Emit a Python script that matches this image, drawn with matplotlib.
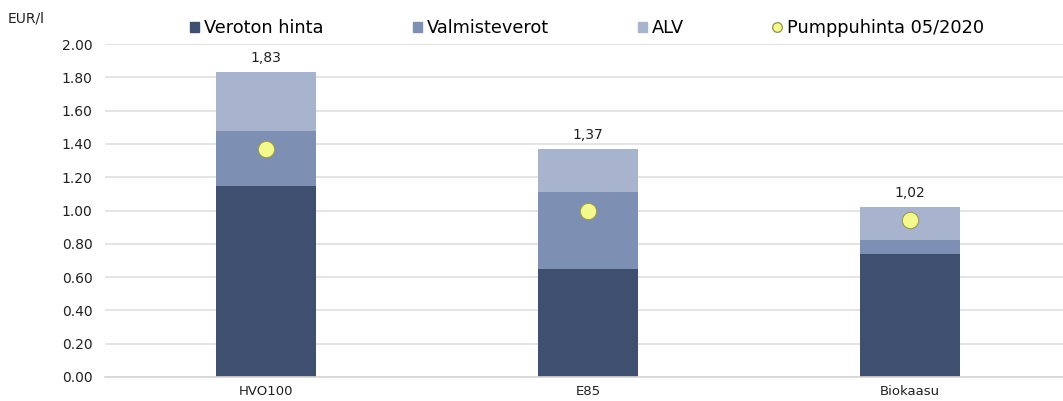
import matplotlib.pyplot as plt
from matplotlib.lines import Line2D
from matplotlib.patches import Patch

categories = ["HVO100", "E85", "Biokaasu"]
veroton = [1.15, 0.65, 0.74]
valmisteverot = [0.33, 0.46, 0.08]
alv = [0.35, 0.26, 0.20]
pumppu = [1.37, 1.00, 0.94]
totals = ["1,83", "1,37", "1,02"]
yticks = [0.0, 0.2, 0.4, 0.6, 0.8, 1.0, 1.2, 1.4, 1.6, 1.8, 2.0]

c_dark = "#3F4F6F"
c_mid = "#7D90B3"
c_light = "#A8B4CD"
c_dot = "#F3F98C"

fig = plt.figure(figsize=(10.63, 4.01), dpi=100)
ax = fig.add_axes([105 / 1063, 1 - 377 / 401, 966 / 1063, (377 - 44) / 401])

x = list(range(len(categories)))
w = 0.31
bottom2 = [a + b for a, b in zip(veroton, valmisteverot)]
ax.bar(x, veroton, w, color=c_dark, zorder=2)
ax.bar(x, valmisteverot, w, bottom=veroton, color=c_mid, zorder=2)
ax.bar(x, alv, w, bottom=bottom2, color=c_light, zorder=2)
ax.scatter(x, pumppu, s=140, color=c_dot, edgecolor="#9A9A55", linewidth=0.8, zorder=3)

for i in x:
    top = veroton[i] + valmisteverot[i] + alv[i]
    ax.annotate(totals[i], (i, top), xytext=(0, 5), textcoords="offset points",
                ha="center", va="bottom", fontsize=10, color="#222222")

ax.set_xlim(-0.5, 2.5)
ax.set_ylim(0, 2.0)
ax.set_yticks(yticks)
ax.set_yticklabels([f"{v:.2f}" for v in yticks], fontsize=10, color="#222222")
ax.set_xticks(x)
ax.set_xticklabels(categories, fontsize=9.5, color="#222222")
ax.tick_params(axis="y", length=0, pad=9)
ax.tick_params(axis="x", length=0, pad=6)
ax.yaxis.grid(True, color="#DCDCDC", linewidth=1.1, zorder=0)
ax.set_axisbelow(True)
for s in ["left", "right", "top"]:
    ax.spines[s].set_visible(False)
ax.spines["bottom"].set_color("#D6D6D6")
ax.spines["bottom"].set_linewidth(1.2)

fig.text(8 / 1063, 1 - 18 / 401, "EUR/l", fontsize=10, va="center", ha="left", color="#222222")

handles = [
    (Patch(color=c_dark), "Veroton hinta", 190),
    (Patch(color=c_mid), "Valmisteverot", 413),
    (Patch(color=c_light), "ALV", 638),
    (Line2D([], [], marker="o", linestyle="", markersize=7, markerfacecolor=c_dot,
            markeredgecolor="#9A9A55"), "Pumppuhinta 05/2020", 773),
]
for h, label, px in handles:
    leg = fig.legend([h], [label], loc="center left", bbox_to_anchor=(px / 1063, 1 - 28 / 401),
                     frameon=False, fontsize=12.8, handlelength=0.5, handleheight=0.5,
                     handletextpad=0.3, borderaxespad=0, borderpad=0)

fig.savefig("out.png", dpi=100)
